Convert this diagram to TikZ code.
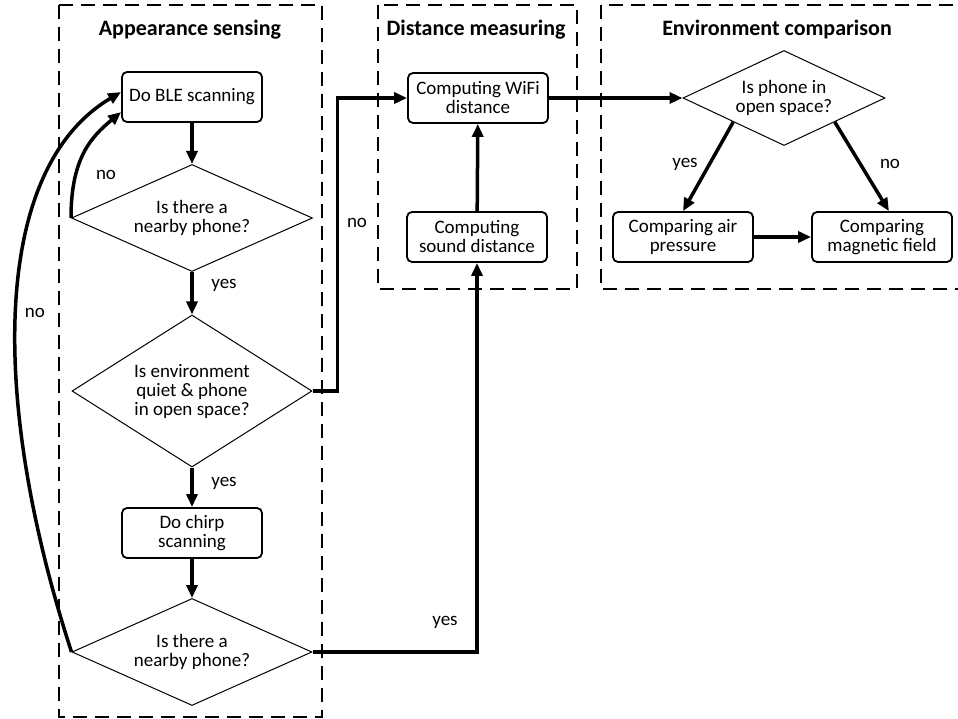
\documentclass[tikz,border=0pt]{standalone}
\usepackage{fontspec}
\setmainfont{Carlito}
\usepackage{tikz}
\usetikzlibrary{shapes.geometric}
\usetikzlibrary{arrows.meta}
\usetikzlibrary{calc}

\begin{document}
\begin{tikzpicture}[
        x=1pt, y=-1pt,
        font=\fontsize{19}{19}\selectfont,
        process/.style={rectangle, draw=black, line width=1.8pt, rounded corners=5pt, minimum width=140pt, minimum height=50pt, align=center, inner sep=2pt},
        decision/.style={diamond, draw=black, line width=1pt, align=center, inner sep=1pt},
        stage/.style={draw=black, line width=2pt, dash pattern=on 14pt off 8pt},
        title/.style={font=\fontsize{22}{24}\selectfont\bfseries},
        flow/.style={-{Triangle[length=13pt,width=11pt]}, line width=3.5pt},
        tag/.style={inner sep=0}
    ]

        % 画布大小与参考图一致
        \useasboundingbox (0,0) rectangle (958,719);

        % 三个阶段的虚线框
        \draw[stage] (59,5) rectangle (322,717);
        \draw[stage] (378,5) rectangle (577,289);
        \draw[stage] (601,5) rectangle (966,289);
        \node[title] (title-appear) at (190,30) {Appearance sensing};
        \node[title] (title-dist) at (476,30) {Distance measuring};
        \node[title] (title-env) at (777,30) {Environment comparison};

        % Appearance sensing
        \node[process] (ble) at (192,97) {Do BLE scanning};
        \node[decision, aspect=2.25, minimum width=241pt, minimum height=107pt] (near-1) at (192,218) {Is there a\\nearby phone?};
        \node[decision, aspect=1.58, minimum width=240pt, minimum height=152pt] (quiet) at (192,391) {Is environment\\quiet \& phone\\in open space?};
        \node[process] (chirp) at (192,533) {Do chirp\\scanning};
        \node[decision, aspect=2.25, minimum width=240pt, minimum height=107pt] (near-2) at (192,652) {Is there a\\nearby phone?};

        % Distance measuring
        \node[process] (wifi) at (478,98) {Computing WiFi\\distance};
        \node[process] (sound) at (477,237) {Computing\\sound distance};

        % Environment comparison
        \node[decision, aspect=2.13, minimum width=202pt, minimum height=95pt] (open) at (784,98) {Is phone in\\open space?};
        \node[process] (air) at (683,237) {Comparing air\\pressure};
        \node[process] (mag) at (882,237) {Comparing\\magnetic field};

        % 主流程
        \foreach \a/\b in {ble/near-1, near-1/quiet, quiet/chirp, chirp/near-2}{
            \draw[flow] (\a) -- (\b);
        }
        \node[tag] (yes-1) at (224,285) {yes};
        \node[tag] (yes-2) at (224,483) {yes};

        % no → 回到 BLE
        \draw[flow] (near-1.west) .. controls +(0,-60) and +(-30,25) .. (ble.192);
        \node[tag] (no-1) at (106,175) {no};
        \draw[flow] (near-2.west) .. controls +(-82,-252) and +(-130,77) .. (ble.176);
        \node[tag] (no-2) at (35,313) {no};

        % 跳到距离测量
        \draw[flow] (quiet.east) -- ++(25,0) |- (wifi.west);
        \node[tag] (no-3) at (357,223) {no};
        \draw[flow] (near-2.east) -| (sound.south);
        \node[tag] (yes-3) at (445,622) {yes};
        \draw[flow] (sound) -- (wifi);

        % 环境比较
        \draw[flow] (wifi.east) -- (open.west);
        \draw[flow] (open.south west) -- (air.north);
        \draw[flow] (open.south east) -- (mag.75);
        \draw[flow] (air) -- (mag);
        \node[tag] (yes-4) at (685,164) {yes};
        \node[tag] (no-4) at (890,164) {no};

    \end{tikzpicture}
\end{document}
